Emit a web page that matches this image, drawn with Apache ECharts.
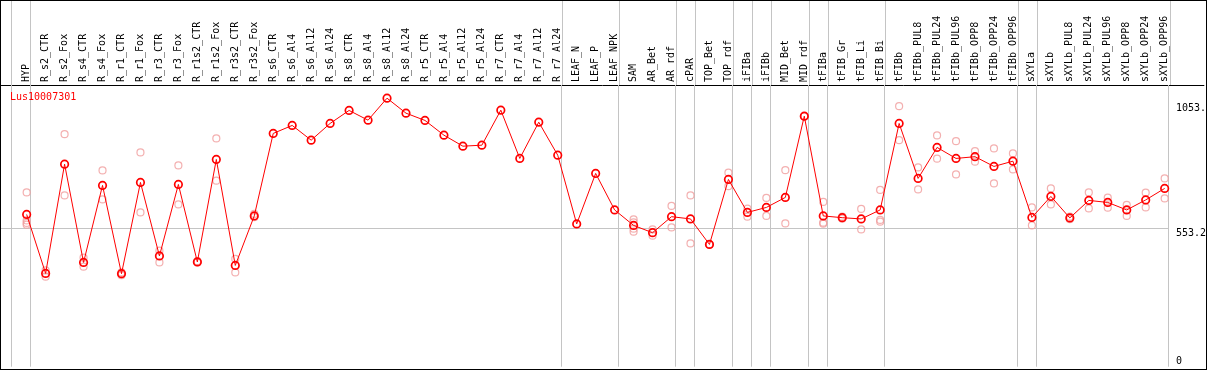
<!DOCTYPE html>
<html>
<head>
<meta charset="utf-8">
<script src="https://cdn.jsdelivr.net/npm/echarts@6/dist/echarts.min.js"></script>
<style>
  html, body { margin: 0; padding: 0; background: #fff; }
  #wrap { position: relative; width: 1209px; height: 370px; }
  #chart { position: absolute; left: 0; top: 0; width: 1209px; height: 370px; }
  #frame { position: absolute; left: 0; top: 0; width: 1207px; height: 370px; box-sizing: border-box; border: 1px solid #000; pointer-events: none; }
</style>
</head>
<body>
<div id="wrap"><div id="chart"></div><div id="frame"></div></div>
<script>
// ---------- DATA ----------
const categories = ["HYP","R_s2_CTR","R_s2_Fox","R_s4_CTR","R_s4_Fox","R_r1_CTR","R_r1_Fox","R_r3_CTR","R_r3_Fox",
  "R_r1s2_CTR","R_r1s2_Fox","R_r3s2_CTR","R_r3s2_Fox","R_s6_CTR","R_s6_Al4","R_s6_Al12","R_s6_Al24",
  "R_s8_CTR","R_s8_Al4","R_s8_Al12","R_s8_Al24","R_r5_CTR","R_r5_Al4","R_r5_Al12","R_r5_Al24",
  "R_r7_CTR","R_r7_Al4","R_r7_Al12","R_r7_Al24","LEAF_N","LEAF_P","LEAF_NPK","SAM","AR_Bet","AR_rdf",
  "cPAR","TOP_Bet","TOP_rdf","iFIBa","iFIBb","MID_Bet","MID_rdf","tFIBa","tFIB_Gr","tFIB_Li","tFIB_Bi",
  "tFIBb","tFIBb_PUL8","tFIBb_PUL24","tFIBb_PUL96","tFIBb_OPP8","tFIBb_OPP24","tFIBb_OPP96",
  "sXYLa","sXYLb","sXYLb_PUL8","sXYLb_PUL24","sXYLb_PUL96","sXYLb_OPP8","sXYLb_OPP24","sXYLb_OPP96"];

const meanValues = [609,373,810,417,725,372,737,443,729,419,829,405,603,933,965,906,973,1025,986,1074,1014,985,
  926,882,886,1026,833,978,846,571,773,627,565,536,600,591,489,749,617,637,677,1002,603,596,591,627,
  973,753,877,833,840,801,822,597,681,595,665,657,627,667,713];

const replicateValues = [
  [697,585,575,568],[385,360],[930,685],[436,400],[785,669],[377,366],[857,617],[464,417],[805,649],
  [422,417],[913,744],[431,377],[611,598],[],[],[],[],[],[],[],[],[],[],[],[],[],[],[],[],[],[],[],
  [589,577,552,540],[549,524],[643,557],[685,493],[489,489],[776,722],[632,600],[675,603],[786,573],[1002,1002],
  [659,576,572],[600,592],[631,549],[707,587,580],
  [1042,906],[797,709],[925,832],[902,769],[862,820],[873,733],[853,789],
  [637,565],[713,649],[600,590],[697,633],[676,636],[647,603],[696,637],[753,673]
];

// last category index of each group (gray separators after them)
const groupEnds = [-1, 0, 28, 31, 34, 35, 37, 38, 39, 41, 42, 45, 52, 53, 60];

const geneName = "Lus10007301";
const yTickValues = [0, 553.2, 1053];
const yTickLabels = ["0", "553.2", "1053."];
const refLineValue = 553.2;
const yMax = 1126.7;

// ---------- LAYOUT ----------
const stepPx = 19, firstPx = 26.7, gridLeftPx = 1, gridRightPx = 1206;
const xMin = (gridLeftPx - firstPx) / stepPx;
const xMax = (gridRightPx - firstPx) / stepPx;
const sepOffset = 0.21;
const mono = "DejaVu Sans Mono";

const sepPositions = groupEnds.map(g => g + sepOffset);
const sepLines = sepPositions.map(p => ({ xAxis: p }));
const lastSep = sepPositions[sepPositions.length - 1];

const meanData = meanValues.map((v, i) => [i, v]);
const repData = [];
replicateValues.forEach((arr, i) => arr.forEach(v => repData.push([i, v])));

const gray = "#c4c4c4";

const chart = echarts.init(document.getElementById('chart'), null, { renderer: 'canvas' });
chart.setOption({
  animation: false,
  backgroundColor: '#fff',
  title: {
    text: geneName, left: 10, top: 92, padding: 0,
    textStyle: { color: '#ff0000', fontFamily: mono, fontSize: 10, fontWeight: 'normal' }
  },
  grid: [
    { left: gridLeftPx, right: 1209 - gridRightPx, top: 85, bottom: 3.3 },
    { left: gridLeftPx, right: 1209 - gridRightPx, top: 0, height: 85 }
  ],
  xAxis: [
    {
      gridIndex: 0, type: 'value', min: xMin, max: xMax, position: 'top',
      axisLine: { show: true, onZero: false, lineStyle: { color: '#000', width: 1 } },
      axisTick: { show: false }, splitLine: { show: false },
      axisLabel: {
        customValues: categories.map((c, i) => i),
        formatter: v => categories[Math.round(v)] || '',
        rotate: -90, margin: 3, hideOverlap: false,
        fontFamily: mono, fontSize: 10, color: '#000'
      }
    },
    { gridIndex: 1, type: 'value', min: xMin, max: xMax, show: false, axisLine: { onZero: false } }
  ],
  yAxis: [
    {
      gridIndex: 0, type: 'value', min: 0, max: yMax, position: 'right',
      axisLine: { show: false, onZero: false }, axisTick: { show: false }, splitLine: { show: false },
      axisLabel: {
        customValues: yTickValues,
        formatter: v => { const k = yTickValues.indexOf(v); return k >= 0 ? yTickLabels[k] : ''; },
        inside: true, align: 'left', margin: 28, verticalAlign: 'top',
        verticalAlignMinLabel: 'bottom',
        fontFamily: mono, fontSize: 10, color: '#000'
      }
    },
    { gridIndex: 1, type: 'value', min: 0, max: 1, show: false, axisLine: { onZero: false } }
  ],
  series: [
    {
      type: 'scatter', xAxisIndex: 0, yAxisIndex: 0, data: repData,
      symbol: 'circle', symbolSize: 7,
      itemStyle: { color: 'rgba(0,0,0,0)', borderColor: '#f09c9c', borderWidth: 1.2 }, z: 2, silent: true
    },
    {
      type: 'line', xAxisIndex: 0, yAxisIndex: 0, data: meanData,
      symbol: 'circle', symbolSize: 7.5, showSymbol: true,
      lineStyle: { color: '#ff0000', width: 1 },
      itemStyle: { color: 'rgba(0,0,0,0)', borderColor: '#ff0000', borderWidth: 1.7 }, z: 3, silent: true,
      markLine: {
        silent: true, symbol: ['none', 'none'], label: { show: false },
        lineStyle: { color: gray, type: 'solid', width: 1 },
        data: sepLines.concat([[{ coord: [xMin, refLineValue] }, { coord: [lastSep, refLineValue] }]]),
        z: 1
      }
    },
    {
      type: 'line', xAxisIndex: 1, yAxisIndex: 1, data: [],
      markLine: {
        silent: true, symbol: ['none', 'none'], label: { show: false },
        lineStyle: { color: gray, type: 'solid', width: 1 },
        data: sepLines
      }
    }
  ]
});
</script>
</body>
</html>
